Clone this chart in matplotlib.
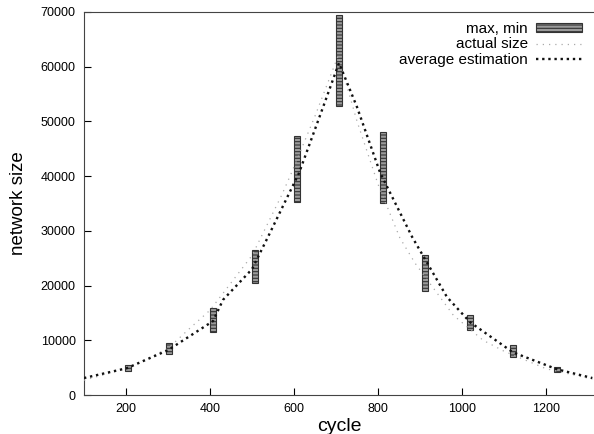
import matplotlib
matplotlib.use("Agg")
import matplotlib.pyplot as plt
from matplotlib.patches import Patch
from matplotlib.lines import Line2D

plt.rcParams['font.family'] = ['Liberation Sans', 'DejaVu Sans']
plt.rcParams['hatch.linewidth'] = 0.8

# max/min bars
bar_cycles = [205, 302, 407, 507, 607, 707, 812, 912, 1019, 1121, 1226]
bar_min = [4400, 7500, 11500, 20500, 35300, 52800, 35100, 19000, 11900, 6900, 4200]
bar_max = [5500, 9500, 15900, 26500, 47300, 69500, 48100, 25600, 14600, 9100, 5100]

# actual size (grey)
act_cycles = [100, 200, 300, 352, 400, 500, 571, 595, 650, 705, 750, 800, 852, 888, 979, 1050, 1100, 1200, 1310]
act_values = [2700, 4800, 8500, 12200, 15500, 25500, 36600, 40800, 51000, 62000, 50000, 38500, 28700, 24100, 14600, 10000, 8000, 4800, 2900]

# average estimation (black)
est_cycles = [100, 202, 300, 407, 431, 500, 538, 612, 669, 707, 750, 805, 881, 964, 1019, 1121, 1226, 1310]
est_values = [3100, 4900, 8200, 13500, 17400, 23000, 28900, 40600, 52600, 60700, 52600, 40600, 28900, 17900, 13300, 7800, 4700, 3100]

x_ticks = [200, 400, 600, 800, 1000, 1200]
y_ticks = [0, 10000, 20000, 30000, 40000, 50000, 60000, 70000]

fig = plt.figure(figsize=(5.94, 4.34), dpi=100)
ax = fig.add_axes([84/594, 39/434, 510/594, 383/434])

heights = [mx - mn for mx, mn in zip(bar_max, bar_min)]
ax.bar(bar_cycles, heights, bottom=bar_min, width=14, facecolor='#9a9a9a',
       edgecolor='#333333', linewidth=0.8, hatch='-----', zorder=2)

ax.plot(act_cycles, act_values, color='#aaaaaa', lw=0.9, linestyle=(0, (1, 4)), zorder=3)
ax.plot(est_cycles, est_values, color='#111111', lw=1.7, linestyle=(0, (1, 1.6)), zorder=4)

ax.set_xlim(100, 1314)
ax.set_ylim(0, 70000)
ax.set_xticks(x_ticks)
ax.set_yticks(y_ticks)
ax.tick_params(direction='in', length=5, labelsize=9, width=0.8, pad=6)
ax.spines['right'].set_visible(False)
for s in ['left', 'bottom', 'top']:
    ax.spines[s].set_linewidth(0.8)
    ax.spines[s].set_color('#444444')

ax.set_xlabel('cycle', fontsize=14, labelpad=2)
ax.set_ylabel('network size', fontsize=13.5, labelpad=10)

handles = [
    Patch(facecolor='#9a9a9a', edgecolor='#333333', hatch='-----', linewidth=0.8),
    Line2D([], [], color='#aaaaaa', lw=0.9, linestyle=(0, (1, 4))),
    Line2D([], [], color='#111111', lw=1.7, linestyle=(0, (1, 1.6))),
]
labels = ['max, min', 'actual size', 'average estimation']
ax.legend(handles, labels, loc='upper right', bbox_to_anchor=(0.995, 1.0),
          frameon=False, markerfirst=False, fontsize=11, handlelength=3.0,
          handleheight=0.5, labelspacing=0.1, handletextpad=0.5, borderaxespad=0.25)

fig.savefig('out.png', dpi=100)
